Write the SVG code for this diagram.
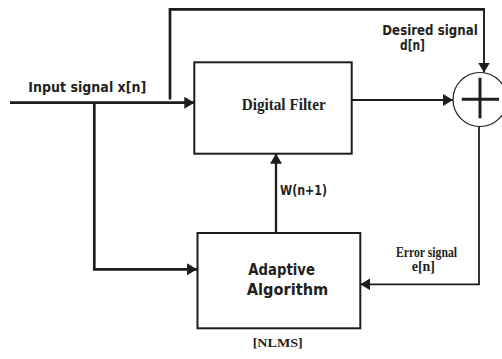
<svg xmlns="http://www.w3.org/2000/svg" width="502" height="359" viewBox="0 0 502 359">
  <style>
    .box { fill: #ffffff; stroke: #1e1c1d; stroke-width: 2; }
    .wire { fill: none; stroke: #1e1c1d; }
    .sans { font-family: "DejaVu Sans", Verdana, sans-serif; font-weight: bold; fill: #231f20; }
    .serif { font-family: "Liberation Serif", "Times New Roman", serif; font-weight: bold; fill: #231f20; }
  </style>
  <defs>
    <marker id="arrow" viewBox="0 0 10 12" refX="10" refY="6" markerWidth="10" markerHeight="12" markerUnits="userSpaceOnUse" orient="auto">
      <path d="M0,0 L10,6 L0,12 z" fill="#1e1c1d"/>
    </marker>
  </defs>
  <rect width="502" height="359" fill="#ffffff"/>

  <!-- signal paths -->
  <g id="connectors">
    <path class="wire" stroke-width="2.7" d="M10,102.7 H194.3" marker-end="url(#arrow)"/>
    <path class="wire" stroke-width="2.7" d="M170,99.5 V9.3 H485"/>
    <path class="wire" stroke-width="1.9" d="M484,9.3 V72.6" marker-end="url(#arrow)"/>
    <path class="wire" stroke-width="1.8" d="M351.7,100 H453" marker-end="url(#arrow)"/>
    <path class="wire" stroke-width="2.7" d="M94.3,102.7 V269.3 H197" marker-end="url(#arrow)"/>
    <path class="wire" stroke-width="2.3" d="M276,232.5 V153.7" marker-end="url(#arrow)"/>
    <path class="wire" stroke-width="1.8" d="M479,126.5 V284.3 H360.3" marker-end="url(#arrow)"/>
  </g>

  <g id="filter">
    <rect class="box" x="194.3" y="62.3" width="157.4" height="91.4"/>
    <text class="serif" x="241.7" y="110" font-size="17" textLength="84" lengthAdjust="spacingAndGlyphs">Digital Filter</text>
  </g>

  <g id="adaptive">
    <rect class="box" x="197.5" y="233" width="162.8" height="95.3"/>
    <text class="sans" x="248.3" y="275" font-size="15.5" textLength="66.7" lengthAdjust="spacingAndGlyphs">Adaptive</text>
    <text class="sans" x="246.7" y="295" font-size="15.5" textLength="81.6" lengthAdjust="spacingAndGlyphs">Algorithm</text>
  </g>

  <g id="sum">
    <circle cx="480" cy="99.5" r="27" fill="#ffffff" stroke="#1e1c1d" stroke-width="1.2"/>
    <path class="wire" stroke-width="3" d="M480,77.7 V118.3 M461.7,99.3 H499"/>
  </g>

  <!-- labels -->
  <g id="labels">
    <text class="sans" x="28.3" y="91.7" font-size="14.5" textLength="118" lengthAdjust="spacingAndGlyphs">Input signal x[n]</text>
    <text class="sans" x="382.3" y="35" font-size="13.7" textLength="95.4" lengthAdjust="spacingAndGlyphs">Desired signal</text>
    <text class="sans" x="400" y="50" font-size="13.7" textLength="25" lengthAdjust="spacingAndGlyphs">d[n]</text>
    <text class="sans" x="280" y="194.5" font-size="14.5" textLength="47" lengthAdjust="spacingAndGlyphs">W(n+1)</text>
    <text class="serif" x="396" y="256.7" font-size="14" textLength="61" lengthAdjust="spacingAndGlyphs">Error signal</text>
    <text class="serif" x="411.7" y="271" font-size="14" textLength="23.3" lengthAdjust="spacingAndGlyphs">e[n]</text>
    <text class="serif" x="252.7" y="346.7" font-size="13.5" textLength="50" lengthAdjust="spacingAndGlyphs">[NLMS]</text>
  </g>
</svg>
